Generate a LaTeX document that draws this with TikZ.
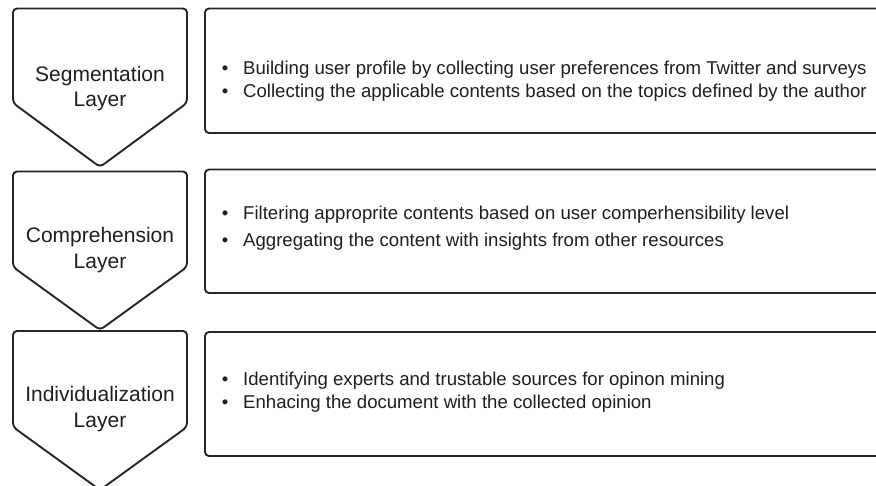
\documentclass[tikz,border=0pt]{standalone}
\usepackage{fontspec}
\setmainfont{Liberation Sans}
\begin{document}
\begin{tikzpicture}[x=1pt,y=-1pt,
  outline/.style={draw=black!85,line width=1.9pt,rounded corners=4pt,fill=white},
  layerlabel/.style={anchor=base,inner sep=0pt,text=black!88,font=\fontsize{21}{25}\selectfont},
  bulletmark/.style={anchor=base,inner sep=0pt,text=black!88,font=\fontsize{18.5}{22}\selectfont},
  bullettext/.style={anchor=base west,inner sep=0pt,text=black!88,font=\fontsize{18.6}{22}\selectfont}]
\useasboundingbox (0,0) rectangle (876,486);
\clip (0,0) rectangle (876,486);

% layer chevrons: top y, shoulder y, tip y
\draw[outline] (13,8.5) -- (187,8.5) -- (187,103) -- (100,167) -- (13,103) -- cycle;
\draw[outline] (13,171.5) -- (187,171.5) -- (187,267) -- (100,330) -- (13,267) -- cycle;
\draw[outline] (13,331) -- (187,331) -- (187,427) -- (100,490) -- (13,427) -- cycle;

% description panels (running past the right edge)
\draw[outline] (205,8.5) rectangle (890,133);
\draw[outline] (205,169.5) rectangle (890,293);
\draw[outline] (205,332) rectangle (890,456);

% layer names
\node[layerlabel] (seg1) at (100,82) {Segmentation};
\node[layerlabel] (seg2) at (100,107) {Layer};
\node[layerlabel] (com1) at (100,243) {Comprehension};
\node[layerlabel] (com2) at (100,269) {Layer};
\node[layerlabel] (ind1) at (100,402) {Individualization};
\node[layerlabel] (ind2) at (100,428) {Layer};

% segmentation layer tasks
\node[bulletmark] (b11) at (225,74.5) {•};
\node[bullettext] (t11) at (243,74.5) {Building user profile by collecting user preferences from Twitter and surveys};
\node[bulletmark] (b12) at (225,98) {•};
\node[bullettext] (t12) at (243,98) {Collecting the applicable contents based on the topics defined by the author};

% comprehension layer tasks
\node[bulletmark] (b21) at (225,220) {•};
\node[bullettext] (t21) at (243,220) {Filtering approprite contents based on user comperhensibility level};
\node[bulletmark] (b22) at (225,247) {•};
\node[bullettext] (t22) at (243,247) {Aggregating the content with insights from other resources};

% individualization layer tasks
\node[bulletmark] (b31) at (225,385) {•};
\node[bullettext] (t31) at (243,385) {Identifying experts and trustable sources for opinon mining};
\node[bulletmark] (b32) at (225,408) {•};
\node[bullettext] (t32) at (243,408) {Enhacing the document with the collected opinion};
\end{tikzpicture}
\end{document}
